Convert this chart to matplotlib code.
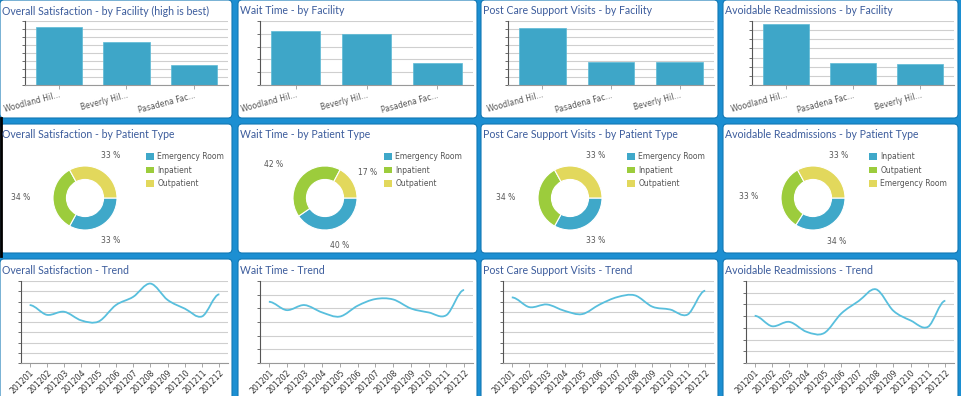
import matplotlib
matplotlib.use("Agg")
import matplotlib.pyplot as plt
from matplotlib.patches import FancyBboxPatch, Patch, PathPatch
from matplotlib.path import Path
from matplotlib.transforms import IdentityTransform
import numpy as np

W, H = 962, 396

# ---- data -------------------------------------------------------------
bar_titles = ["Overall Satisfaction - by Facility (high is best)", "Wait Time - by Facility",
              "Post Care Support Visits - by Facility", "Avoidable Readmissions - by Facility"]
bar_labels = [["Woodland Hil...", "Beverly Hil...", "Pasadena Fac..."],
              ["Woodland Hil...", "Beverly Hil...", "Pasadena Fac..."],
              ["Woodland Hil...", "Pasadena Fac...", "Beverly Hil..."],
              ["Woodland Hil...", "Pasadena Fac...", "Beverly Hil..."]]
satisfaction_by_facility = [7.2, 5.35, 2.5]
wait_by_facility = [4.2, 4.0, 1.75]
postcare_by_facility = [7.15, 2.9, 2.9]
readmit_by_facility = [6.7, 2.45, 2.35]
bar_ymax = [8, 5, 8, 7]

pie_titles = ["Overall Satisfaction - by Patient Type", "Wait Time - by Patient Type",
              "Post Care Support Visits - by Patient Type", "Avoidable Readmissions - by Patient Type"]
pie_labels = [["Emergency Room", "Inpatient", "Outpatient"],
              ["Emergency Room", "Inpatient", "Outpatient"],
              ["Emergency Room", "Inpatient", "Outpatient"],
              ["Inpatient", "Outpatient", "Emergency Room"]]
satisfaction_by_type = [33, 34, 33]
wait_by_type = [40, 42, 17]
postcare_by_type = [33, 34, 33]
readmit_by_type = [34, 33, 33]

trend_titles = ["Overall Satisfaction - Trend", "Wait Time - Trend",
                "Post Care Support Visits - Trend", "Avoidable Readmissions - Trend"]
months = ["201201", "201202", "201203", "201204", "201205", "201206",
          "201207", "201208", "201209", "201210", "201211", "201212"]
satisfaction_trend = [5.65, 4.7, 5.0, 4.15, 4.05, 5.65, 6.45, 7.75, 6.15, 5.3, 4.55, 6.7]
wait_trend = [4.48, 3.87, 4.24, 3.7, 3.4, 4.19, 4.68, 4.65, 3.99, 3.7, 3.5, 5.34]
postcare_trend = [6.4, 5.45, 5.71, 5.09, 4.77, 5.71, 6.43, 6.6, 5.49, 5.22, 4.73, 7.05]
readmit_trend = [4.03, 3.14, 3.51, 2.66, 2.55, 4.23, 5.29, 6.29, 4.46, 3.63, 3.09, 5.31]
trend_ymax = [8, 6, 8, 7]

# ---- style ------------------------------------------------------------
BG = "#1c8fd2"
BAR = "#3ea6c8"
LINE = "#58bfdd"
PIE_COLORS = ["#3fa8c9", "#9ccc3c", "#e2d85c"]
TITLE_COLOR = "#3c5c9c"
GRID = "#cfcfcf"
TITLE_FONT = ["Lato", "DejaVu Sans"]

cols = [(0, 232), (238, 477), (481, 718), (723, 958)]
rows = [(0, 118), (124, 253), (259, 400)]

fig = plt.figure(figsize=(W / 100, H / 100), dpi=100, facecolor=BG)


def ax_at(x0, y0, x1, y1):
    return fig.add_axes([x0 / W, 1 - y1 / H, (x1 - x0) / W, (y1 - y0) / H])


def panel(x0, y0, x1, y1, title):
    box = FancyBboxPatch((x0, H - y1), x1 - x0, y1 - y0,
                         boxstyle="round,pad=0,rounding_size=4",
                         transform=IdentityTransform(), facecolor="white",
                         edgecolor="#1378b4", linewidth=0.8, zorder=-5)
    fig.patches.append(box)
    fig.text((x0 + 2) / W, 1 - (y0 + 11) / H, title, family=TITLE_FONT,
             fontsize=7.6, color=TITLE_COLOR, va="center", ha="left")


def style_axes(ax, ymax):
    ax.set_facecolor("none")
    ax.set_ylim(0, ymax)
    ax.set_yticks(range(ymax + 1))
    ax.yaxis.grid(True, color=GRID, linewidth=0.8)
    ax.set_axisbelow(True)
    for side in ["top", "right"]:
        ax.spines[side].set_visible(False)
    ax.spines["left"].set_color("#555555")
    ax.spines["bottom"].set_color("#999999")
    ax.tick_params(axis="y", length=2.5, width=0.6, color="#555555", labelleft=False)
    ax.tick_params(axis="x", length=3, width=0.6, color="#999999", pad=1)


# ---- row 1: bars ------------------------------------------------------
bar_values = [satisfaction_by_facility, wait_by_facility, postcare_by_facility, readmit_by_facility]
bar_left = [25, 22, 27, 29]
for i in range(4):
    x0, x1 = cols[i]
    y0, y1 = rows[0]
    panel(x0, y0, x1, y1, bar_titles[i])
    ax = ax_at(x0 + bar_left[i], y0 + 21, x1 - 4, y0 + 85)
    ax.bar(range(3), bar_values[i], width=0.68, color=BAR, edgecolor="#5cbad6", linewidth=0.5)
    ax.set_xlim(-0.5, 2.5)
    style_axes(ax, bar_ymax[i])
    ax.set_xticks(range(3))
    ax.set_xticklabels(bar_labels[i], rotation=15, ha="right", rotation_mode="anchor",
                       fontsize=5.5, color="#555555")

# ---- row 2: donuts ----------------------------------------------------
pie_values = [satisfaction_by_type, wait_by_type, postcare_by_type, readmit_by_type]
pie_cx = [85, 87, 89, 90]
R = 32
for i in range(4):
    x0, x1 = cols[i]
    y0, y1 = rows[1]
    panel(x0, y0, x1, y1, pie_titles[i])
    cx, cy = x0 + pie_cx[i], y0 + 74
    ax = ax_at(cx - 60, cy - 60, cx + 60, cy + 60)
    ax.set_axis_off()
    wedges, _ = ax.pie(pie_values[i], colors=PIE_COLORS, startangle=0, counterclock=False,
                       wedgeprops=dict(width=0.42, edgecolor="white", linewidth=0.8))
    ax.set_xlim(-60 / R, 60 / R)
    ax.set_ylim(-60 / R, 60 / R)
    for w, v in zip(wedges, pie_values[i]):
        ang = np.deg2rad((w.theta1 + w.theta2) / 2)
        lx = 1.55 * np.cos(ang)
        if np.cos(ang) < -0.3:
            lx -= 0.45
        ax.text(lx, 1.55 * np.sin(ang), f"{v} %", fontsize=5.5, color="#555555",
                ha="center", va="center")
    handles = [Patch(facecolor=c, label=l) for c, l in zip(PIE_COLORS, pie_labels[i])]
    ax.legend(handles=handles, loc="upper left",
              bbox_to_anchor=((x0 + 146) / W, 1 - (y0 + 28) / H),
              bbox_transform=fig.transFigure, frameon=False, fontsize=5.5,
              labelcolor="#555555", handlelength=1.0, handleheight=1.0,
              handletextpad=0.5, labelspacing=0.6, borderpad=0, borderaxespad=0)

# ---- row 3: trends ----------------------------------------------------
trend_values = [satisfaction_trend, wait_trend, postcare_trend, readmit_trend]
trend_left = [21, 22, 22, 23]


def spline_path(ys):
    # smooth bezier curve through the monthly points (like the dashboard spline)
    xs = np.arange(len(ys), dtype=float)
    ys = np.asarray(ys, dtype=float)
    tang = np.zeros(len(ys))
    tang[1:-1] = (ys[2:] - ys[:-2]) / 2
    verts = [(xs[0], ys[0])]
    codes = [Path.MOVETO]
    for k in range(len(ys) - 1):
        verts += [(xs[k] + 1 / 3, ys[k] + tang[k] / 3),
                  (xs[k + 1] - 1 / 3, ys[k + 1] - tang[k + 1] / 3),
                  (xs[k + 1], ys[k + 1])]
        codes += [Path.CURVE4] * 3
    return Path(verts, codes)


for i in range(4):
    x0, x1 = cols[i]
    y0, y1 = rows[2]
    panel(x0, y0, x1, y1, trend_titles[i])
    ax = ax_at(x0 + trend_left[i], y0 + 22, x1 - 4, y0 + 104)
    ax.add_patch(PathPatch(spline_path(trend_values[i]), fill=False,
                           edgecolor=LINE, linewidth=1.3))
    ax.set_xlim(-0.5, len(months) - 0.5)
    style_axes(ax, trend_ymax[i])
    ax.set_xticks(range(len(months)))
    ax.set_xticklabels(months, rotation=45, ha="right", rotation_mode="anchor",
                       fontsize=5.6, color="#333333")

# left black edge seen in the screenshot
fig.add_artist(plt.Line2D([1 / W, 1 / W], [1 - 256 / H, 1 - 118 / H],
                          transform=fig.transFigure, color="black", linewidth=2))

fig.savefig("out.png", dpi=100, facecolor=BG)
